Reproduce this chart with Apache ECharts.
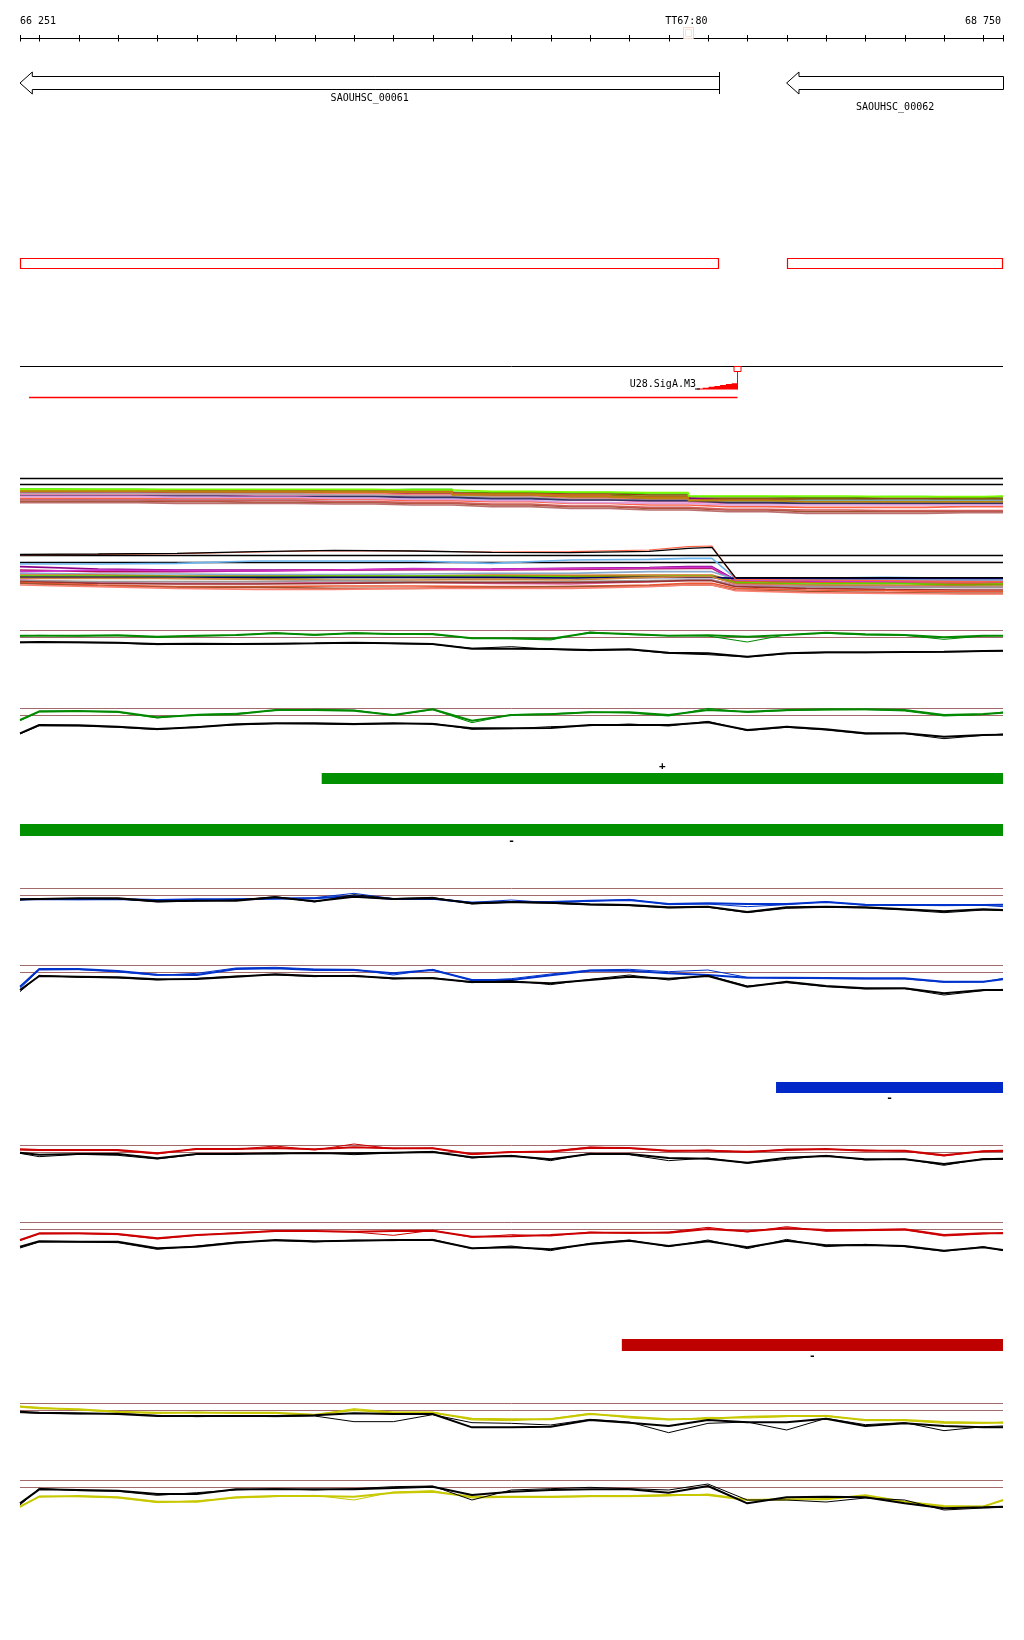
<!DOCTYPE html>
<html><head><meta charset="utf-8">
<script src="https://cdn.jsdelivr.net/npm/echarts@6/dist/echarts.min.js"></script>
<style>html,body{margin:0;padding:0;background:#fff}#c{width:1024px;height:1640px}</style>
</head><body><div id="c"></div>
<script>
// ---------------- DATA ----------------
const START = 66251, END = 68750;
const axisTicks = [66251,66300,66400,66500,66600,66700,66800,66900,67000,67100,67200,67300,67400,67500,67600,67700,67800,67900,68000,68100,68200,68300,68400,68500,68600,68700,68750];
const axisLabelPos = [66251, 67945, 68750];
const axisLabelText = ['66 251', 'TT67:80', '68 750'];
const axisLabelAlign = ['left', 'center', 'right'];
const markerSpan = [67937, 67963];

const geneName = ['SAOUHSC_00061', 'SAOUHSC_00062'];
const geneStart = [66251, 68200];
const geneEnd = [68028, 68750];
const geneEndMark = [true, false];
const geneRow = [0, 1];

const promoterName = 'U28.SigA.M3';
const promoterPos = 68075;
const promoterFrom = 67972;
const promoterScore = [1, 2, 3, 4, 5, 6, 7];
const tuStart = 66274, tuEnd = 68075;

const greenPlus = [67018, 68750];
const greenMinus = [66251, 68750];
const blueMinus = [68173, 68750];
const redMinus = [67781, 68750];

// condition-profile positions (dense groups)
const groupAPos = [66251,66450,66650,66850,67050,67250,67450,67650,67850,68050,68250,68450,68650,68750];
const groupBPos = [66251,66450,66650,66850,67050,67250,67450,67650,67850,67950,68010,68070,68250,68450,68650,68750];
const groupAFlat = [25.5, 43.5];
const groupBFlat = [256.5, 277.5];

const a01 = [57,58,60,62,60,58,67,68,72,80,82,80,82,80];
const a02 = [60,60,62,62,60,62,70,72,75,85,85,85,85,85];
const a03 = [65,66,68,66,68,68,72,75,80,88,88,90,88,88];
const a04 = [68,68,68,70,70,70,78,80,85,90,92,92,92,92];
const a05 = [66,66,68,68,68,70,75,80,86,95,95,95,95,95];
const a06 = [72,72,72,72,70,75,80,85,90,95,98,98,98,98];
const a07 = [62,62,64,64,65,65,72,75,82,90,92,95,95,95];
const a08 = [88,90,88,88,88,85,88,90,92,95,92,92,92,92];
const a09 = [85,85,86,86,88,92,95,100,105,110,112,112,110,110];
const a10 = [95,95,95,97,98,100,105,110,115,120,125,125,125,125];
const a11 = [75,75,75,78,78,80,85,90,95,100,100,102,100,100];
const a12 = [70,70,72,72,75,78,82,88,92,98,100,100,100,100];
const a13 = [78,78,78,80,80,82,86,90,92,98,100,100,100,100];
const a14 = [64,64,66,66,66,68,75,80,85,92,95,95,95,95];
const a15 = [80,80,82,82,85,88,92,98,100,105,105,105,105,105];
const a16 = [90,90,92,92,95,98,102,108,112,118,120,122,122,122];
const a17 = [98,98,100,100,102,105,110,115,120,125,130,130,128,128];
const a18 = [58,58,58,58,58,60,64,66,68,78,78,80,80,78];
const groupAColors = ['#33dd00','#8b4513','#808000','#800080','#c71585','#fa8072','#d2691e','#6cb4ee','#ff6347','#a0522d','#ff69b4','#aaaaaa','#333366','#b8860b','#dda0dd','#cd5c5c','#bc6f6f','#7cfc00'];

const bBlackTop = [253,252,250,245,241,243,247,248,244,235,232,323,323,323,323,323];
const bOrange  = [254,253,251,246,242,243,246,245,240,230,228,328,330,332,335,335];
const bBlue    = [282,282,280,273,273,273,280,270,268,265,265,325,325,322,325,325];
const bPurple  = [290,297,300,300,300,298,297,295,293,290,290,330,330,335,333,335];
const bCrimson = [300,305,305,303,300,298,300,298,296,295,295,333,335,335,335,335];
const bMagenta = [305,300,302,303,300,296,298,296,294,292,292,332,333,335,335,335];
const bSteel   = [310,312,312,314,314,312,310,310,305,305,305,328,328,330,330,330];
const bOrange2 = [315,315,318,318,318,318,315,316,315,315,315,335,338,340,340,340];
const bGreen   = [318,318,320,320,318,318,318,320,320,318,318,338,342,340,345,342];
const bOlive   = [322,322,325,325,322,322,323,322,320,320,320,340,345,348,345,345];
const bNavy    = [322,322,322,322,322,322,322,324,322,322,322,325,325,325,325,325];
const bTan     = [325,325,325,328,330,330,328,330,322,320,320,342,345,345,350,350];
const bPink    = [330,338,340,340,338,336,340,342,335,330,330,345,350,350,352,352];
const bGray    = [332,335,335,335,332,335,336,335,332,330,330,348,350,352,352,352];
const bDarkred = [335,340,342,342,340,338,338,338,335,332,332,350,355,358,360,360];
const bTomato  = [338,345,350,350,348,348,350,350,345,340,340,355,360,362,365,365];
const bSienna  = [340,348,352,352,355,355,352,350,348,345,345,360,365,368,370,370];
const bSalmon  = [345,350,355,358,358,355,355,355,350,345,345,362,368,370,372,372];
const groupBColors = ['#6cb4ee','#8b008b','#b0105a','#cc33cc','#88aacc','#d2691e','#55dd00','#888800','#000066','#cd853f','#e066aa','#999999','#993333','#ee5533','#a0522d','#fa8072'];

// expression panels (27 positions = axisTicks)
const profPos = axisTicks;
const g1Thr = [31.5, 52.5];
const g1GreenA = [47,47,47,46,50,47,45,40,44,40,42,42,55,55,56,38,42,47,46,50,45,38,43,45,52,47,47];
const g1GreenB = [48,46,48,47,52,48,46,38,46,38,43,44,55,56,60,36,44,47,48,66,44,40,45,46,58,48,47];
const g1BlackA = [67,66,67,68,72,71,72,71,70,68,70,72,86,86,87,90,88,98,100,110,100,97,97,96,95,93,92];
const g1BlackB = [68,67,68,69,74,72,73,72,70,68,71,73,85,80,88,92,89,100,104,111,101,98,98,97,96,94,93];

const g2Thr = [25.5, 46.5];
const g2GreenA = [60,34,33,35,52,45,43,30,30,32,45,28,62,45,43,37,37,45,30,35,30,28,28,30,45,42,38];
const g2GreenB = [62,36,34,37,54,43,40,32,28,30,46,29,68,44,41,36,39,48,25,37,32,30,29,33,48,44,36];
const g2BlackA = [100,75,76,80,87,82,73,70,70,72,70,72,85,85,84,75,75,75,67,90,80,88,100,100,110,105,104];
const g2BlackB = [102,77,78,82,89,80,75,71,72,74,71,70,88,86,80,77,72,78,64,92,82,90,102,101,116,106,102];

const b1Thr = [25.5, 46.5];
const b1BlueA = [58,57,58,57,60,58,58,56,55,48,57,56,68,66,66,62,60,72,70,72,72,66,74,75,75,75,74];
const b1BlueB = [60,58,59,58,62,60,57,55,53,40,56,55,67,60,68,64,58,74,72,80,74,65,76,76,77,76,80];
const b1BlackA = [58,57,55,55,64,62,62,52,64,50,57,55,70,66,68,73,75,82,80,96,82,80,82,88,94,88,90];
const b1BlackB = [60,56,56,57,66,63,60,50,66,44,56,52,72,67,70,75,77,84,82,98,85,82,84,90,98,90,92];

const b2Thr = [16.5, 37.5];
const b2BlueA = [80,27,27,33,44,45,27,25,30,30,40,30,60,60,46,32,32,40,45,53,53,54,55,55,65,65,58];
const b2BlueB = [85,30,29,36,46,40,24,22,27,28,45,28,62,56,42,30,28,35,30,52,55,56,57,57,67,66,55];
const b2BlackA = [90,48,50,52,58,57,50,43,48,48,55,55,66,65,70,60,50,56,48,80,65,78,85,85,100,90,90];
const b2BlackB = [95,46,52,54,60,55,48,45,50,46,57,53,68,62,74,58,45,60,46,78,68,80,87,86,105,92,88];

const r1Thr = [16.5, 37.5];
const r1RedA = [28,30,30,30,40,27,27,24,28,22,25,25,42,36,35,23,24,32,32,35,30,27,32,32,46,34,32];
const r1RedB = [30,31,29,32,42,26,28,18,30,12,26,24,44,35,33,21,25,34,30,37,27,28,30,34,48,33,34];
const r1BlackA = [38,44,42,42,55,42,42,40,40,40,38,36,52,48,58,42,42,54,56,68,53,48,58,58,72,58,56];
const r1BlackB = [40,50,43,46,57,43,40,42,38,44,39,34,54,46,62,40,44,62,54,70,58,46,60,57,76,56,58];

const r2Thr = [7.5, 28.5];
const r2RedA = [60,40,40,42,55,45,40,33,33,35,33,32,50,49,45,38,38,38,27,34,25,30,30,28,45,40,40];
const r2RedB = [62,42,41,44,57,46,38,32,34,36,46,31,52,44,48,36,40,36,22,36,20,34,32,30,48,42,38];
const r2BlackA = [80,64,65,65,85,80,68,60,64,62,60,60,85,82,88,72,62,78,64,82,62,76,75,78,92,82,90];
const r2BlackB = [84,66,66,68,88,78,66,62,66,60,62,58,86,78,92,70,60,80,60,86,58,80,73,80,94,80,92];

const y1Thr = [40.5, 61.5];
const y1YellowA = [50,55,58,65,68,68,68,68,74,60,68,68,86,88,88,72,80,88,86,80,78,78,90,90,96,98,98];
const y1YellowB = [48,52,60,67,70,66,70,70,75,56,66,66,90,92,86,70,84,90,82,84,80,76,92,92,100,100,96];
const y1BlackA = [65,68,70,72,78,78,78,78,76,70,72,72,112,112,110,90,98,108,90,97,97,86,108,100,108,112,112];
const y1BlackB = [68,70,72,70,76,80,78,80,78,95,95,74,98,100,105,88,96,128,100,96,120,85,104,98,122,110,108];

const y2Thr = [31.5, 52.5];
const y2BlackA = [100,58,60,62,72,72,58,58,58,58,54,50,75,65,60,58,58,68,48,100,82,80,82,100,115,112,110];
const y2BlackB = [105,55,62,64,76,68,60,56,60,56,50,48,90,60,56,52,56,60,42,90,90,96,84,90,120,114,112];
const y2YellowA = [110,80,78,82,95,95,82,78,78,80,68,65,80,80,80,78,78,75,75,90,88,88,76,95,108,110,90];
const y2YellowB = [112,78,80,84,98,92,84,80,76,90,66,62,84,82,82,80,80,78,72,88,90,86,78,96,110,108,92];

// ---------------- CHART ----------------
const FONT = '10px "DejaVu Sans Mono"';
const grids = [], xAxes = [], yAxes = [], series = [];
function addGrid(top, height, ymax, inverse) {
  const i = grids.length;
  grids.push({left: 20, right: 21, top: top, height: height});
  xAxes.push({type: 'value', gridIndex: i, min: START, max: END, show: false});
  yAxes.push({type: 'value', gridIndex: i, min: 0, max: ymax, inverse: !!inverse, show: false});
  return i;
}
function line(g, xs, ys, color, width, step) {
  series.push({type: 'line', xAxisIndex: g, yAxisIndex: g, data: xs.map((x, k) => [x, ys[k]]),
    symbol: 'none', showSymbol: false, step: step || false, lineStyle: {color: color, width: width},
    silent: true, animation: false, clip: false});
}
function flat(g, v, color, width) { line(g, [START, END], [v, v], color, width); }
function custom(g, data, renderItem) {
  series.push({type: 'custom', xAxisIndex: g, yAxisIndex: g, data: data, renderItem: renderItem,
    silent: true, animation: false, clip: false});
}
const X = (api, v) => api.coord([v, 0])[0];

// top axis
const gAx = addGrid(28, 21, 1);
custom(gAx, [[START, END]], (p, api) => {
  const y = p.coordSys.y + 10.5;
  return {type: 'line', shape: {x1: X(api, api.value(0)), y1: y, x2: X(api, api.value(1)), y2: y}, style: {stroke: '#000', lineWidth: 1}};
});
custom(gAx, axisTicks.map(t => [t]), (p, api) => {
  const y = p.coordSys.y + 10.5, x = Math.round(X(api, api.value(0))) + 0.5;
  return {type: 'line', shape: {x1: x, y1: y - 3.5, x2: x, y2: y + 3}, style: {stroke: '#000', lineWidth: 1}};
});
custom(gAx, axisLabelPos.map(t => [t]), (p, api) => {
  const i = p.dataIndex;
  let x = X(api, api.value(0));
  if (axisLabelAlign[i] === 'right') x -= 2;
  return {type: 'text', style: {text: axisLabelText[i], x: x, y: p.coordSys.y - 7, align: axisLabelAlign[i], verticalAlign: 'middle', font: FONT, fill: '#000'}};
});
custom(gAx, [markerSpan], (p, api) => {
  const x1 = Math.round(X(api, api.value(0))) + 0.5, x2 = Math.round(X(api, api.value(1))) + 0.5;
  return {type: 'group', children: [
    {type: 'rect', shape: {x: x1, y: p.coordSys.y - 0.5, width: x2 - x1, height: 11}, style: {fill: 'none', stroke: '#f6d6c6', lineWidth: 1}},
    {type: 'rect', shape: {x: x1 + 2, y: p.coordSys.y + 1.5, width: x2 - x1 - 4, height: 7}, style: {fill: 'none', stroke: '#f8e2d6', lineWidth: 1}}
  ]};
});

// genes
const gGene = addGrid(72, 22, 1);
custom(gGene, geneStart.map((s, i) => [s, geneEnd[i]]), (p, api) => {
  const i = p.dataIndex;
  const x1 = X(api, api.value(0)), x2 = Math.round(X(api, api.value(1))) + 0.5;
  const cy = p.coordSys.y + 11, bh = 6.5, hh = 11, hl = 12.3;
  const ch = [{type: 'polygon', shape: {points: [[x1, cy], [x1 + hl, cy - hh], [x1 + hl, cy - bh], [x2, cy - bh], [x2, cy + bh], [x1 + hl, cy + bh], [x1 + hl, cy + hh]]},
    style: {fill: '#fff', stroke: '#000', lineWidth: 1}}];
  if (geneEndMark[i]) ch.push({type: 'line', shape: {x1: x2, y1: cy - hh, x2: x2, y2: cy + hh}, style: {stroke: '#000', lineWidth: 1}});
  ch.push({type: 'text', style: {text: geneName[i], x: (x1 + x2) / 2, y: cy + 15 + geneRow[i] * 9, align: 'center', verticalAlign: 'middle', font: FONT, fill: '#000'}});
  return {type: 'group', children: ch};
});

// CDS boxes
const gCds = addGrid(258, 11, 1);
custom(gCds, geneStart.map((s, i) => [s, geneEnd[i]]), (p, api) => {
  const x1 = Math.round(X(api, api.value(0))) + 0.5, x2 = Math.round(X(api, api.value(1))) - 0.5;
  return {type: 'rect', shape: {x: x1, y: p.coordSys.y + 0.5, width: x2 - x1, height: 10}, style: {fill: 'none', stroke: '#ff0000', lineWidth: 1.2}};
});

// promoter track
const gProm = addGrid(360, 40, 1);
custom(gProm, [[START, END]], (p, api) => {
  const y = p.coordSys.y + 6.5;
  return {type: 'line', shape: {x1: X(api, api.value(0)), y1: y, x2: X(api, api.value(1)), y2: y}, style: {stroke: '#000', lineWidth: 1}};
});
custom(gProm, [[promoterFrom, promoterPos]], (p, api) => {
  const x1 = X(api, api.value(0)), x2 = Math.round(X(api, api.value(1))) + 0.5;
  const base = p.coordSys.y + 29.5, n = promoterScore.length, w = (x2 - x1) / n;
  const pts = [[x1, base]];
  promoterScore.forEach((s, k) => { pts.push([x1 + k * w, base - s * 0.9]); pts.push([x1 + (k + 1) * w, base - s * 0.9]); });
  pts.push([x2, base]);
  return {type: 'group', children: [
    {type: 'polygon', shape: {points: pts}, style: {fill: '#ff0000'}},
    {type: 'line', shape: {x1: x2, y1: p.coordSys.y + 6, x2: x2, y2: base}, style: {stroke: '#ff0000', lineWidth: 1}},
    {type: 'rect', shape: {x: x2 - 3.5, y: p.coordSys.y + 6.5, width: 7, height: 5}, style: {fill: '#fff', stroke: '#ff0000', lineWidth: 1}},
    {type: 'line', shape: {x1: x1 - 2, y1: base - 0.5, x2: x1 + 3, y2: base - 0.5}, style: {stroke: '#000', lineWidth: 1}},
    {type: 'text', style: {text: promoterName, x: x1 - 1, y: p.coordSys.y + 24.5, align: 'right', verticalAlign: 'middle', font: FONT, fill: '#000'}}
  ]};
});
custom(gProm, [[tuStart, tuEnd]], (p, api) => {
  const y = p.coordSys.y + 37.5;
  return {type: 'line', shape: {x1: X(api, api.value(0)), y1: y, x2: X(api, api.value(1)), y2: y}, style: {stroke: '#ff0000', lineWidth: 1.3}};
});

// dense condition groups
const gGrp = addGrid(470, 130, 390, true);
groupAFlat.forEach(v => flat(gGrp, v, '#000', 1.3));
[a01,a02,a03,a04,a05,a06,a07,a08,a09,a10,a11,a12,a13,a14,a15,a16,a17,a18].forEach((d, k) => line(gGrp, groupAPos, d, groupAColors[k], 1.6, 'middle'));
groupBFlat.forEach(v => flat(gGrp, v, '#000', 1.3));
[bBlue,bPurple,bCrimson,bMagenta,bSteel,bOrange2,bGreen,bOlive,bNavy,bTan,bPink,bGray,bDarkred,bTomato,bSienna,bSalmon].forEach((d, k) => line(gGrp, groupBPos, d, groupBColors[k], 1.6));
line(gGrp, groupBPos, bOrange, '#ff6347', 1.2);
line(gGrp, groupBPos, bBlackTop, '#000', 1.3);

// expression panel helper
const BROWN = '#a26a6a';
function panel(top, thr, colA, colB, blA, blB, color) {
  const g = addGrid(top, 50, 150, true);
  thr.forEach(v => flat(g, v, BROWN, 1));
  line(g, profPos, colB, color, 1);
  line(g, profPos, colA, color, 2);
  line(g, profPos, blB, '#000', 1);
  line(g, profPos, blA, '#000', 2);
}
const GREEN = '#008a00', BLUE = '#0033cc', RED = '#cc0000', YEL = '#c8c800';
panel(620, g1Thr, g1GreenA, g1GreenB, g1BlackA, g1BlackB, GREEN);
panel(700, g2Thr, g2GreenA, g2GreenB, g2BlackA, g2BlackB, GREEN);
panel(880, b1Thr, b1BlueA, b1BlueB, b1BlackA, b1BlackB, BLUE);
panel(960, b2Thr, b2BlueA, b2BlueB, b2BlackA, b2BlackB, BLUE);
panel(1140, r1Thr, r1RedA, r1RedB, r1BlackA, r1BlackB, RED);
panel(1220, r2Thr, r2RedA, r2RedB, r2BlackA, r2BlackB, RED);
panel(1390, y1Thr, y1YellowA, y1YellowB, y1BlackA, y1BlackB, YEL);
panel(1470, y2Thr, y2YellowA, y2YellowB, y2BlackA, y2BlackB, YEL);

// strand bars
function strandBar(top, h, span, color, sign, above) {
  const g = addGrid(top, h, 1);
  custom(g, [span], (p, api) => {
    const x1 = X(api, api.value(0)), x2 = X(api, api.value(1)), cs = p.coordSys;
    return {type: 'group', children: [
      {type: 'rect', shape: {x: x1, y: cs.y, width: x2 - x1, height: h}, style: {fill: color}},
      {type: 'text', style: {text: sign, x: (x1 + x2) / 2, y: above ? cs.y - 7 : cs.y + h + 5, align: 'center', verticalAlign: 'middle', font: 'bold 11px "DejaVu Sans Mono"', fill: '#000'}}
    ]};
  });
}
strandBar(773, 11, greenPlus, '#009000', '+', true);
strandBar(824, 12, greenMinus, '#009000', '-', false);
strandBar(1082, 11, blueMinus, '#0028c8', '-', false);
strandBar(1339, 12, redMinus, '#bf0000', '-', false);

const chart = echarts.init(document.getElementById('c'), null, {renderer: 'canvas', width: 1024, height: 1640});
chart.setOption({animation: false, backgroundColor: '#fff', grid: grids, xAxis: xAxes, yAxis: yAxes, series: series});
</script></body></html>
